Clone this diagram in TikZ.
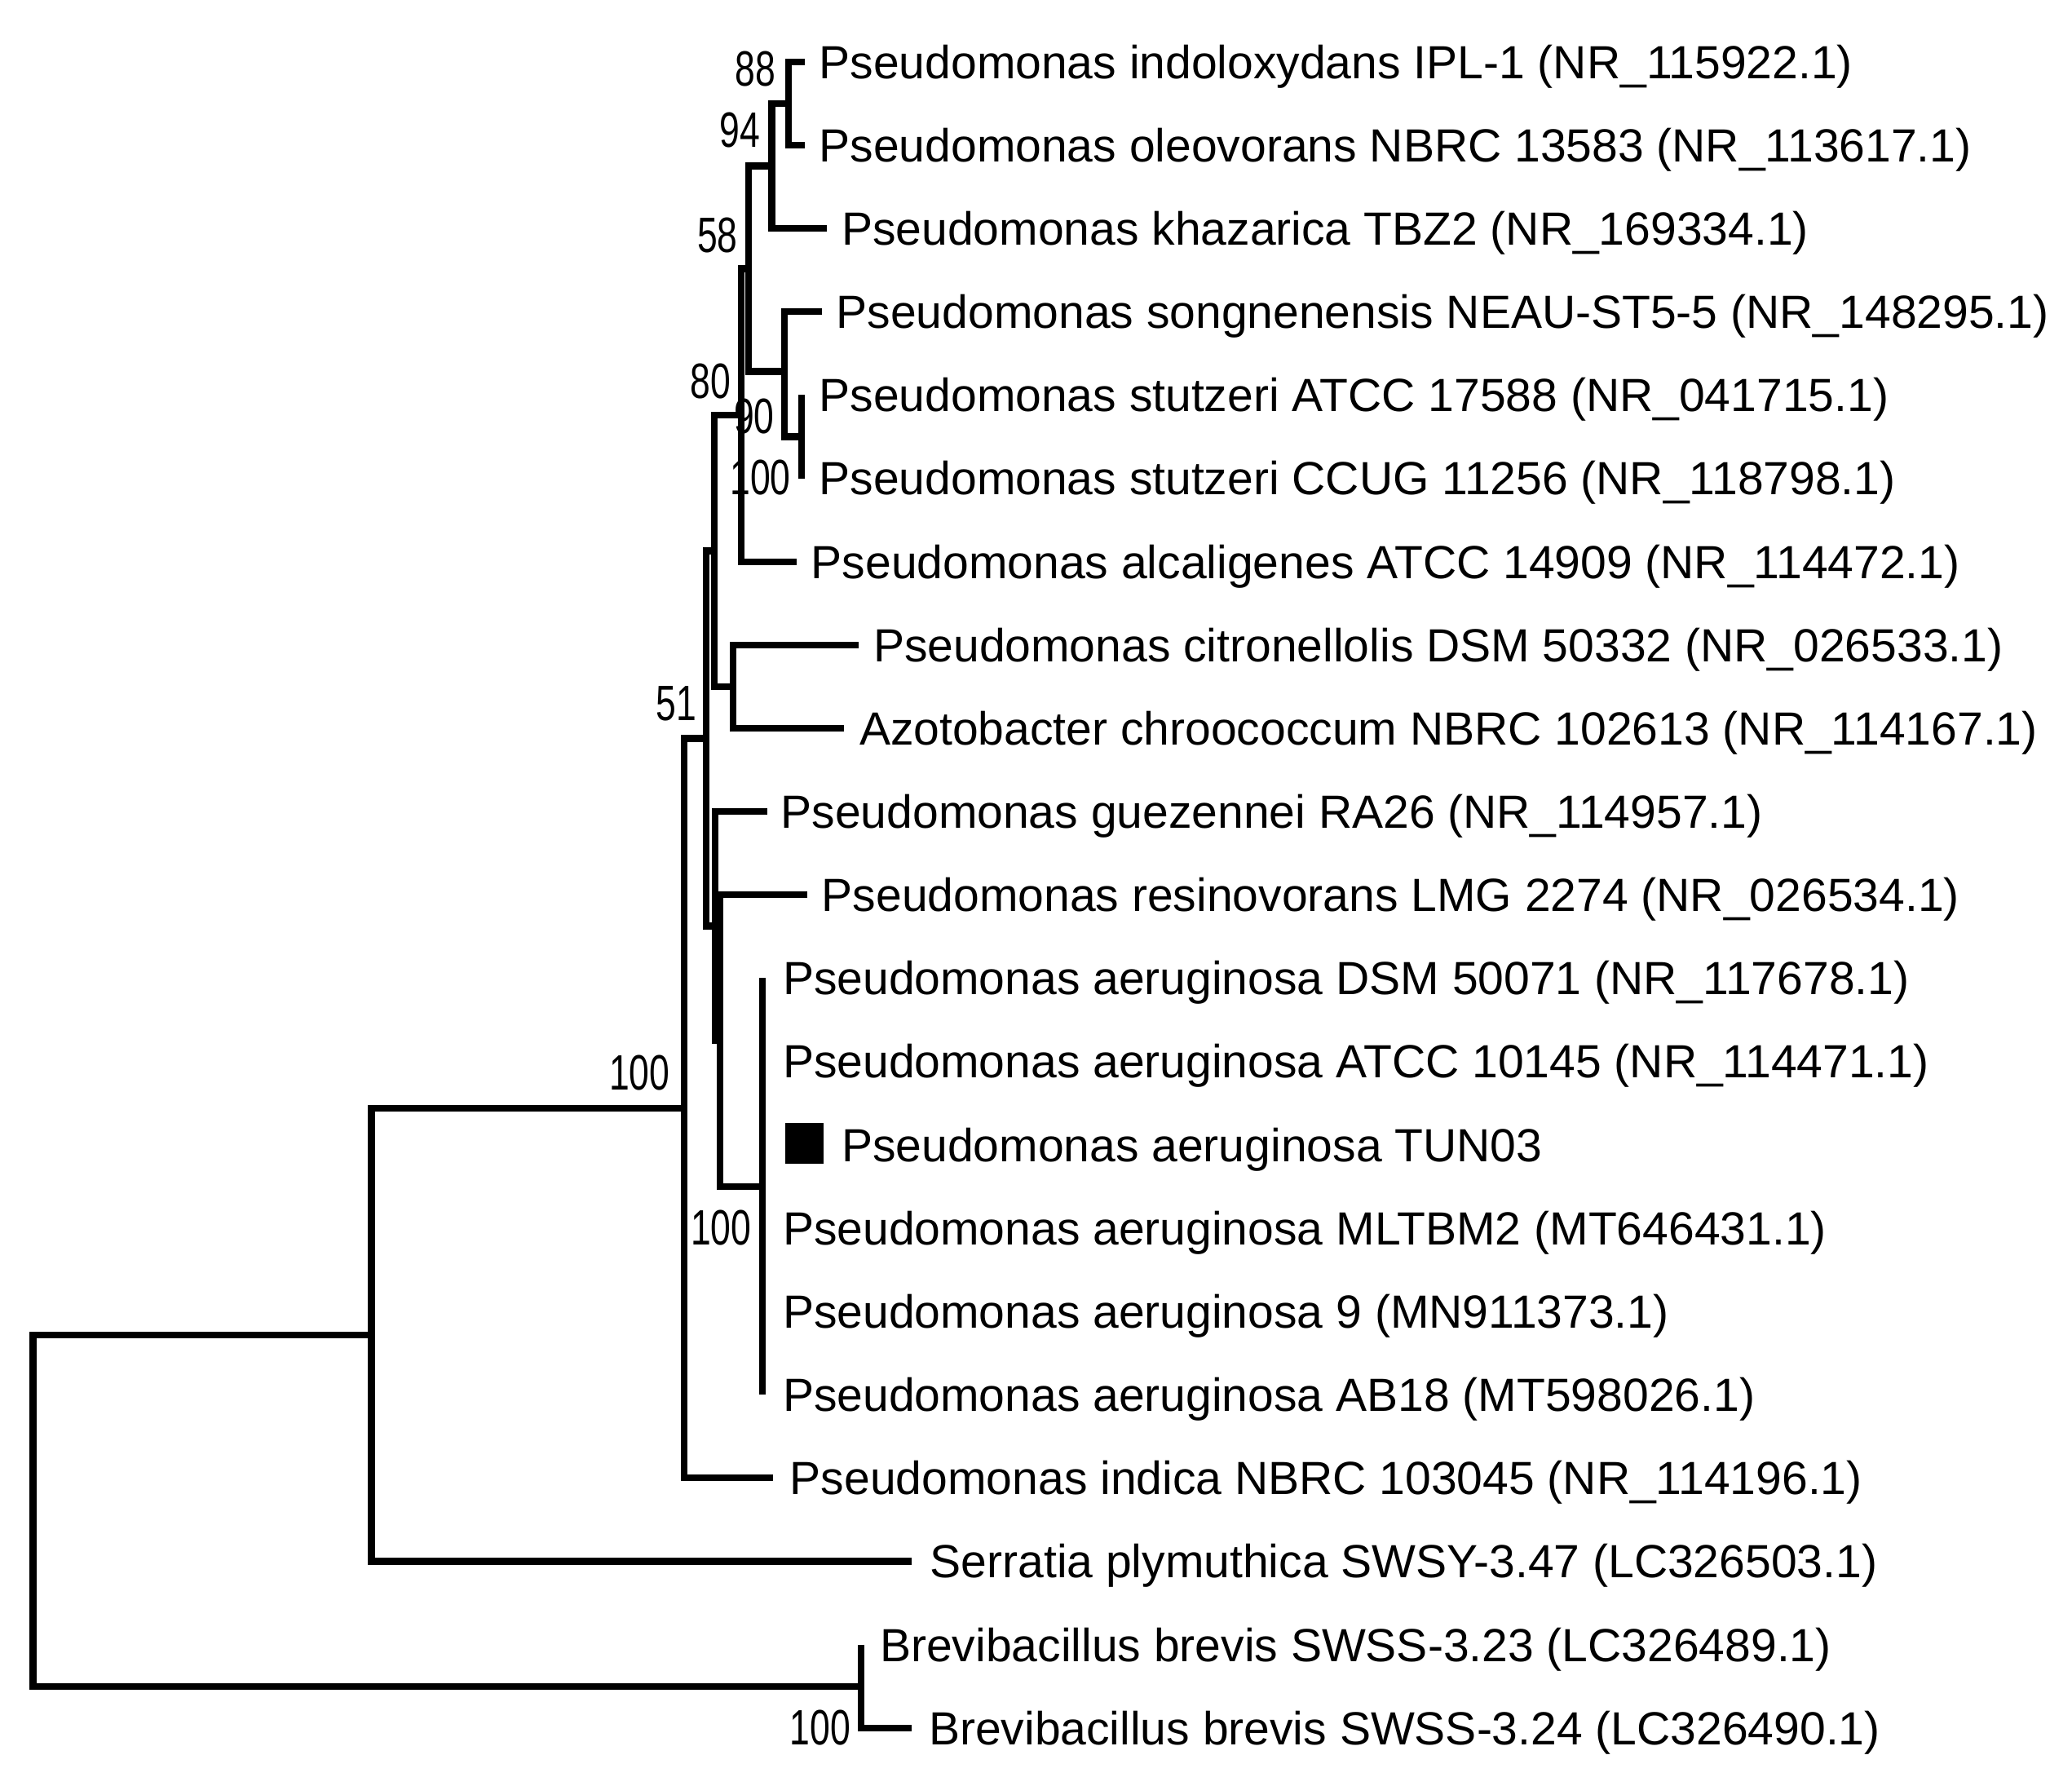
\documentclass[tikz,border=0pt]{standalone}
\usepackage{fontspec}
\setmainfont{Liberation Sans}
\usepackage{graphicx}
\begin{document}
\begin{tikzpicture}[x=0.5pt,y=-0.5pt,
  branch/.style={draw=black, line width=2.55pt, line join=miter},
  leaf/.style={anchor=base west, inner sep=0pt, font=\fontsize{17.6}{20}\selectfont},
  boot/.style={anchor=base east, inner sep=0pt, font=\fontsize{18.8}{20}\selectfont}]
\useasboundingbox[fill=white] (0,0) rectangle (1568,1351);
% leaf ends
\coordinate (e1) at (609,46.8);
\coordinate (e2) at (609,109.83);
\coordinate (e3) at (626,172.86);
\coordinate (e4) at (622,235.89);
\coordinate (e5) at (606.4,298.92);
\coordinate (e6) at (606.4,361.95);
\coordinate (e7) at (603,424.98);
\coordinate (e8) at (650,488.01);
\coordinate (e9) at (638.7,551.04);
\coordinate (e10) at (580.5,614.07);
\coordinate (e11) at (611,677.1);
\coordinate (e12) at (577,740.13);
\coordinate (e17) at (577,1055.28);
\coordinate (e18) at (585,1118.31);
\coordinate (e19) at (690,1181.34);
\coordinate (e20) at (651.6,1244.37);
\coordinate (e21) at (690,1307.4);
% internal nodes
\coordinate (n88) at (596.7,78.3);
\coordinate (n94) at (584,125.6);
\coordinate (nStu) at (606.4,330.4);
\coordinate (nSong) at (593.4,281);
\coordinate (n58) at (566.3,203.3);
\coordinate (n80) at (561,314.1);
\coordinate (nF) at (554.6,519.5);
\coordinate (nD) at (540.4,416.8);
\coordinate (nH) at (577,897.7);
\coordinate (nG) at (545,787.4);
\coordinate (nE) at (541,700.7);
\coordinate (nC) at (534.2,558.8);
\coordinate (nB) at (517.7,838.6);
\coordinate (nA) at (281,1010);
\coordinate (nBrev) at (651.6,1275.9);
\coordinate (root) at (25,1143);
% branches
\draw[branch] (e1) -| (n88) |- (e2);
\draw[branch] (n88) -| (n94) |- (e3);
\draw[branch] (e5) -| (nStu) |- (e6);
\draw[branch] (e4) -| (nSong) |- (nStu);
\draw[branch] (n94) -| (n58) |- (nSong);
\draw[branch] (n58) -| (n80) |- (e7);
\draw[branch] (e8) -| (nF) |- (e9);
\draw[branch] (n80) -| (nD) |- (nF);
\draw[branch] (e12) -| (nH) |- (e17);
\draw[branch] (e11) -| (nG) |- (nH);
\draw[branch] (e10) -| (nE) |- (nG);
\draw[branch] (nD) -| (nC) |- (nE);
\draw[branch] (nC) -| (nB) |- (e18);
\draw[branch] (nB) -| (nA) |- (e19);
\draw[branch] (e20) -| (nBrev) |- (e21);
\draw[branch] (nA) -| (root) |- (nBrev);
% bootstrap values
\node[boot] (b88) at (587.4,64.8) {\scalebox{0.73}[1]{88}};
\node[boot] (b94) at (575.6,111.1) {\scalebox{0.73}[1]{94}};
\node[boot] (b58) at (558.6,191) {\scalebox{0.73}[1]{58}};
\node[boot] (b80) at (553.5,301.3) {\scalebox{0.73}[1]{80}};
\node[boot] (b90) at (586.4,328.1) {\scalebox{0.73}[1]{90}};
\node[boot] (bStu) at (598.7,374.4) {\scalebox{0.73}[1]{100}};
\node[boot] (b51) at (527.5,545.1) {\scalebox{0.73}[1]{51}};
\node[boot] (bH) at (568.9,942.1) {\scalebox{0.73}[1]{100}};
\node[boot] (bB) at (507.2,824.9) {\scalebox{0.73}[1]{100}};
\node[boot] (bBrev) at (644,1320.3) {\scalebox{0.73}[1]{100}};
% marker
\node[fill=black, inner sep=0pt, minimum width=14.5pt, minimum height=15.5pt] (sq) at (609,865.2) {};
% leaf labels
\node[leaf] (l1) at (619.5,59.4) {Pseudomonas indoloxydans IPL-1 (NR\_115922.1)};
\node[leaf] (l2) at (619.5,122.43) {Pseudomonas oleovorans NBRC 13583 (NR\_113617.1)};
\node[leaf] (l3) at (636.5,185.46) {Pseudomonas khazarica TBZ2 (NR\_169334.1)};
\node[leaf] (l4) at (632.5,248.49) {Pseudomonas songnenensis NEAU-ST5-5 (NR\_148295.1)};
\node[leaf] (l5) at (619.5,311.52) {Pseudomonas stutzeri ATCC 17588 (NR\_041715.1)};
\node[leaf] (l6) at (619.5,374.55) {Pseudomonas stutzeri CCUG 11256 (NR\_118798.1)};
\node[leaf] (l7) at (613.5,437.58) {Pseudomonas alcaligenes ATCC 14909 (NR\_114472.1)};
\node[leaf] (l8) at (660.5,500.61) {Pseudomonas citronellolis DSM 50332 (NR\_026533.1)};
\node[leaf] (l9) at (650,563.64) {Azotobacter chroococcum NBRC 102613 (NR\_114167.1)};
\node[leaf] (l10) at (590.5,626.67) {Pseudomonas guezennei RA26 (NR\_114957.1)};
\node[leaf] (l11) at (621.5,689.7) {Pseudomonas resinovorans LMG 2274 (NR\_026534.1)};
\node[leaf] (l12) at (592,752.73) {Pseudomonas aeruginosa DSM 50071 (NR\_117678.1)};
\node[leaf] (l13) at (592,815.76) {Pseudomonas aeruginosa ATCC 10145 (NR\_114471.1)};
\node[leaf] (l14) at (636.5,878.79) {Pseudomonas aeruginosa TUN03};
\node[leaf] (l15) at (592,941.82) {Pseudomonas aeruginosa MLTBM2 (MT646431.1)};
\node[leaf] (l16) at (592,1004.85) {Pseudomonas aeruginosa 9 (MN911373.1)};
\node[leaf] (l17) at (592,1067.88) {Pseudomonas aeruginosa AB18 (MT598026.1)};
\node[leaf] (l18) at (597.5,1130.91) {Pseudomonas indica NBRC 103045 (NR\_114196.1)};
\node[leaf] (l19) at (703.5,1193.94) {Serratia plymuthica SWSY-3.47 (LC326503.1)};
\node[leaf] (l20) at (665.5,1256.97) {Brevibacillus brevis SWSS-3.23 (LC326489.1)};
\node[leaf] (l21) at (702.5,1320) {Brevibacillus brevis SWSS-3.24 (LC326490.1)};
\end{tikzpicture}
\end{document}
